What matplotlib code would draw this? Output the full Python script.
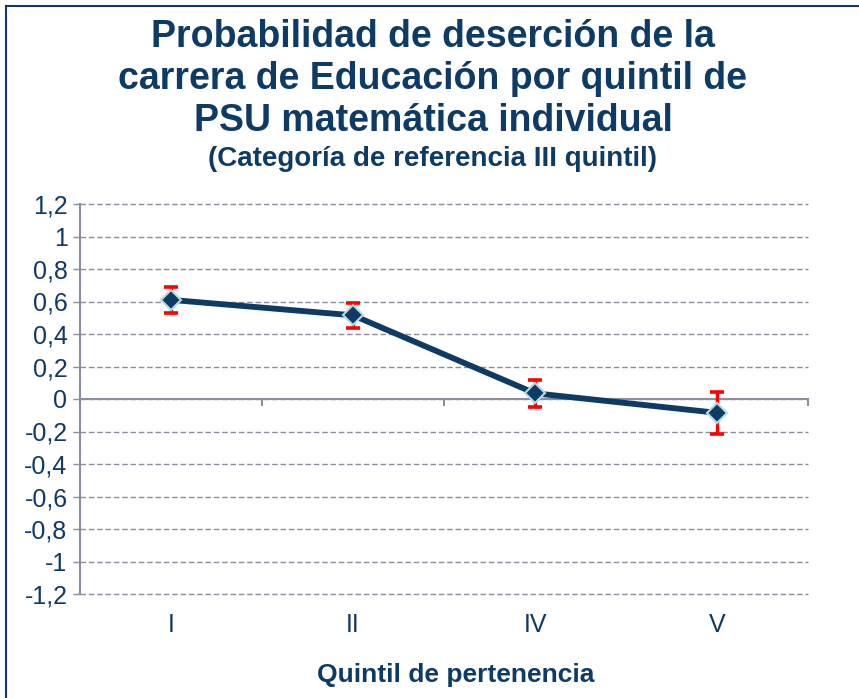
import matplotlib
matplotlib.use("Agg")
import matplotlib.pyplot as plt
from matplotlib.ticker import FuncFormatter
from matplotlib.patches import Rectangle

plt.rcParams['font.family'] = ['Liberation Sans', 'DejaVu Sans']

# data
quintiles = ["I", "II", "IV", "V"]
prob = [0.61, 0.515, 0.035, -0.085]
err = [0.08, 0.075, 0.085, 0.13]

navy = "#0e3a66"
gray = "#8b8e9c"

fig = plt.figure(figsize=(8.59, 6.98), dpi=100)
W, H = 859, 698

# outer frame (open at right and bottom like the source)
fig.patches.append(Rectangle((6 / W, -0.1), 1.2, 1 - 6 / H + 0.1,
                             transform=fig.transFigure, fill=False,
                             edgecolor=navy, linewidth=1.5))

ax = fig.add_axes([80 / W, 1 - 594 / H, 728 / W, 390 / H])
x = list(range(len(quintiles)))

ax.errorbar(x, prob, yerr=err, fmt="none", ecolor="#ff0000",
            elinewidth=2.4, capsize=5, capthick=2.6, zorder=4)
ax.plot(x, prob, color=navy, linewidth=4.2, marker="D", markersize=10,
        markerfacecolor=navy, markeredgecolor="#b3dbe0",
        markeredgewidth=1.5, zorder=5)


def fmt(v, p):
    v = round(v, 1)
    if v == 0:
        return "0"
    return f"{v:g}".replace(".", ",")


ax.set_xlim(-0.5, len(quintiles) - 0.5)
ax.set_ylim(-1.2, 1.2)
ax.set_yticks([round(-1.2 + 0.2 * i, 1) for i in range(13)])
ax.yaxis.set_major_formatter(FuncFormatter(fmt))
ax.grid(axis="y", color=gray, linestyle=(0, (4, 2)), linewidth=1)
for gl in ax.get_ygridlines():
    gl.set_clip_on(False)
ax.set_axisbelow(True)

for s in ["top", "right"]:
    ax.spines[s].set_visible(False)
ax.spines["left"].set_color(gray)
ax.spines["left"].set_linewidth(1.5)
ax.tick_params(axis="y", colors=gray, labelcolor=navy, labelsize=18,
               length=5, width=1, pad=4)

# zero axis with boundary ticks
ax.spines["bottom"].set_position(("data", 0))
ax.spines["bottom"].set_color(gray)
ax.spines["bottom"].set_linewidth(1.5)
ax.spines["bottom"].set_zorder(3)
ax.set_xticks([i - 0.5 for i in range(len(quintiles) + 1)])
ax.set_xticklabels([])
ax.tick_params(axis="x", colors=gray, length=5, width=1.5, direction="out")

# category labels below the plot area
cat_ax = ax.secondary_xaxis("bottom")
cat_ax.set_xticks(x)
cat_ax.set_xticklabels(quintiles)
cat_ax.spines["bottom"].set_visible(False)
cat_ax.tick_params(axis="x", length=0, labelsize=18, labelcolor=navy, pad=14)

title_lines = ["Probabilidad de deserción de la",
               "carrera de Educación por quintil de",
               "PSU matemática individual"]
for i, line in enumerate(title_lines):
    fig.text(433 / W, 1 - (47 + 42 * i) / H, line, ha="center", va="baseline",
             fontsize=27, fontweight="bold", color=navy)
fig.text(433 / W, 1 - 166 / H, "(Categoría de referencia III quintil)",
         ha="center", va="baseline", fontsize=20, fontweight="bold", color=navy)
fig.text(456 / W, 1 - 682 / H, "Quintil de pertenencia", ha="center",
         va="baseline", fontsize=19, fontweight="bold", color=navy)

fig.savefig("out.png", dpi=100)
